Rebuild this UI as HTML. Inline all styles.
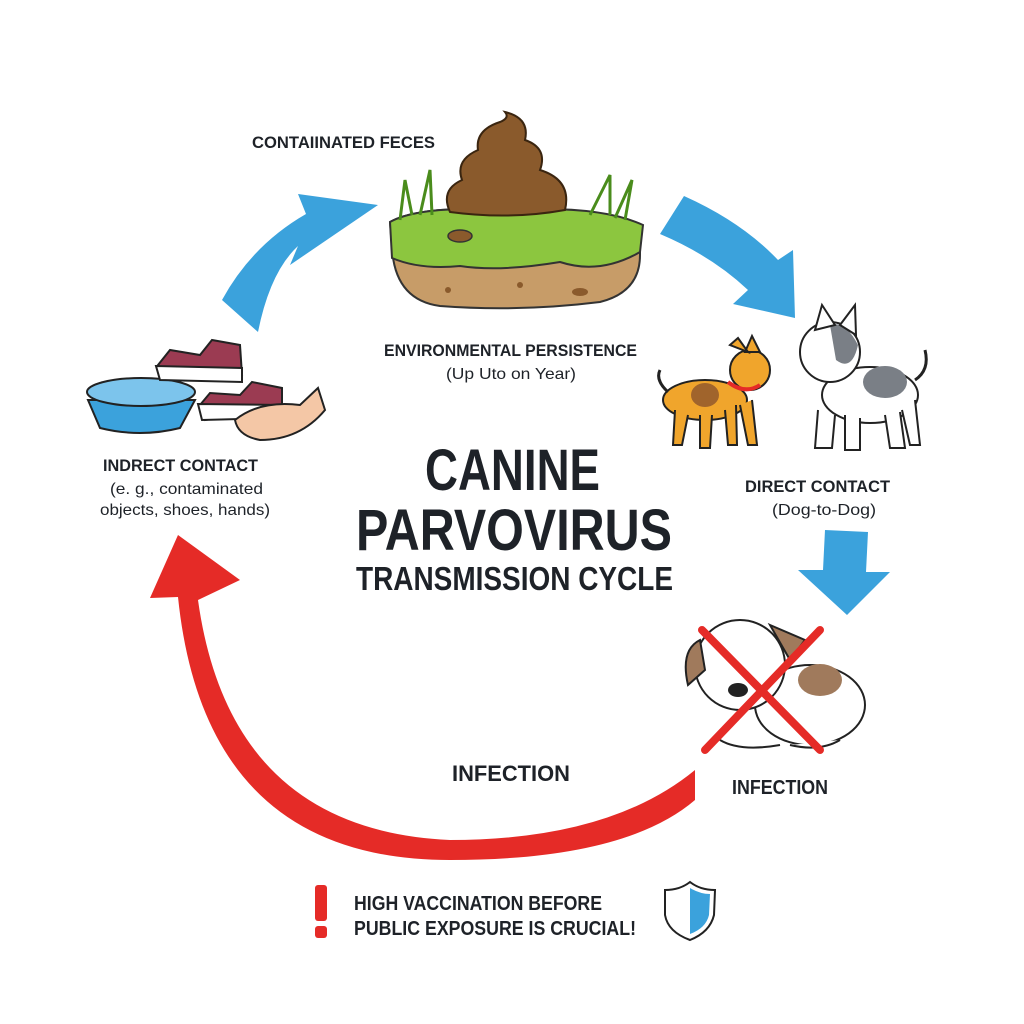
<!DOCTYPE html>
<html><head><meta charset="utf-8"><style>
html,body{margin:0;padding:0;background:#fff}
svg{display:block}
text{font-family:"Liberation Sans",sans-serif;font-weight:bold;fill:#1e2228}
</style></head><body>
<svg width="1024" height="1024" viewBox="0 0 1024 1024">
<rect width="1024" height="1024" fill="#fff"/>
<!-- blue arrows -->
<path d="M222,300 Q252,245 306,214 L298,194 L378,205 L290,265 L298,246 Q270,272 258,332 Z" fill="#3ba2dc"/>
<path d="M660,234 L684,196 Q742,222 778,260 L793,250 L795,318 L733,304 L748,290 Q712,256 660,234 Z" fill="#3ba2dc"/>
<path d="M825,530 L868,532 L866,572 L890,572 L847,615 L798,570 L823,570 Z" fill="#3ba2dc"/>
<!-- red arrow -->
<path d="M695,770 Q610,840 450,840 Q230,830 198,600 L240,580 L178,535 L150,598 L178,597 Q205,860 450,860 Q625,860 695,800 Z" fill="#e52b27"/>
<!-- grass island -->
<path d="M392,248 Q395,300 440,306 Q520,312 600,302 Q640,292 640,255 L640,230 Q600,205 510,210 Q420,205 390,222 Z" fill="#c79c68" stroke="#333" stroke-width="2"/>
<path d="M390,222 Q420,205 510,210 Q600,205 643,225 L640,252 Q600,275 560,262 Q500,272 460,266 Q420,270 392,258 Z" fill="#8cc63f" stroke="#333" stroke-width="2"/>
<ellipse cx="460" cy="236" rx="12" ry="6" fill="#8a5a2c" stroke="#333" stroke-width="1.5"/>
<circle cx="448" cy="290" r="3" fill="#8a5a2c"/><circle cx="520" cy="285" r="3" fill="#8a5a2c"/><ellipse cx="580" cy="292" rx="8" ry="4" fill="#8a5a2c"/>
<path d="M400,220 L405,180 L412,215 M420,215 L430,170 L432,215 M590,215 L610,175 L610,215 M615,218 L632,180 L625,220" stroke="#4a8c1c" stroke-width="3" fill="none"/>
<!-- poop -->
<path d="M450,212 Q440,190 462,180 Q455,160 478,150 Q475,130 500,122 Q510,118 505,112 Q530,118 525,140 Q548,148 540,170 Q572,180 565,210 Q510,220 450,212 Z" fill="#8a5a2c" stroke="#3a2510" stroke-width="2"/>
<!-- bowl -->
<path d="M88,400 L100,428 Q140,438 180,428 L195,400 Z" fill="#3ba2dc" stroke="#222" stroke-width="2"/>
<ellipse cx="141" cy="392" rx="54" ry="14" fill="#7cc4ec" stroke="#222" stroke-width="2"/>
<!-- shoes -->
<path d="M158,365 L170,350 L200,355 L212,340 L240,345 L242,375 L165,378 Z" fill="#9b3b52" stroke="#222" stroke-width="2"/>
<path d="M156,366 L242,368 L242,382 L160,380 Z" fill="#fff" stroke="#222" stroke-width="2"/>
<path d="M200,405 L210,393 L240,395 L252,382 L282,388 L282,408 L205,420 Z" fill="#9b3b52" stroke="#222" stroke-width="2"/>
<path d="M198,404 L282,405 L282,418 L202,420 Z" fill="#fff" stroke="#222" stroke-width="2"/>
<path d="M235,420 Q260,400 300,405 L318,388 L325,410 Q300,440 260,440 Q238,436 235,420 Z" fill="#f4c7a6" stroke="#222" stroke-width="2"/>
<!-- orange dog -->
<ellipse cx="705" cy="400" rx="42" ry="20" fill="#f0a52c" stroke="#222" stroke-width="2"/>
<ellipse cx="705" cy="395" rx="14" ry="12" fill="#a0642c"/>
<circle cx="750" cy="370" r="20" fill="#f0a52c" stroke="#222" stroke-width="2"/>
<path d="M730,345 L738,338 L748,352 Z M745,352 L752,336 L760,352 Z" fill="#f0a52c" stroke="#222" stroke-width="2"/>
<path d="M675,410 L673,445 L682,445 L688,415 M700,415 L700,448 L710,448 L712,415 M725,410 L728,445 L737,445 L736,405 M740,405 L748,445 L757,445 L752,400" fill="#f0a52c" stroke="#222" stroke-width="2"/>
<path d="M668,392 Q655,380 660,370" stroke="#222" stroke-width="3" fill="none"/>
<path d="M728,382 Q745,395 760,385" stroke="#e52b27" stroke-width="4" fill="none"/>
<!-- white/grey dog -->
<ellipse cx="870" cy="395" rx="48" ry="28" fill="#fff" stroke="#222" stroke-width="2"/>
<ellipse cx="885" cy="382" rx="22" ry="16" fill="#7a7f86"/>
<circle cx="830" cy="352" r="30" fill="#fff" stroke="#222" stroke-width="2"/>
<path d="M830,325 Q845,320 858,345 Q852,372 836,360 Z" fill="#7a7f86"/>
<path d="M815,330 L822,305 L835,325 Z M840,325 L855,305 L856,335 Z" fill="#fff" stroke="#222" stroke-width="2"/>
<path d="M818,410 L815,448 L832,448 L835,415 M845,415 L845,450 L860,450 L860,418 M885,415 L890,448 L905,448 L900,412 M902,410 L910,445 L920,445 L915,400" fill="#fff" stroke="#222" stroke-width="2"/>
<path d="M915,380 Q930,370 925,350" stroke="#222" stroke-width="3" fill="none"/>
<!-- sick dog -->
<ellipse cx="810" cy="705" rx="55" ry="40" fill="#fff" stroke="#222" stroke-width="2"/>
<ellipse cx="820" cy="680" rx="22" ry="16" fill="#a07a5c"/>
<circle cx="740" cy="665" r="45" fill="#fff" stroke="#222" stroke-width="2"/>
<path d="M700,640 Q680,650 688,685 L705,670 Z M770,625 L805,640 L790,660 Z" fill="#a07a5c" stroke="#222" stroke-width="2"/>
<ellipse cx="738" cy="690" rx="10" ry="7" fill="#222"/>
<path d="M720,740 Q740,752 780,745 M790,745 Q820,752 840,740" stroke="#222" stroke-width="2" fill="#fff"/>
<path d="M702,630 L820,750 M820,630 L705,750" stroke="#e52b27" stroke-width="8" stroke-linecap="round"/>
<!-- labels -->
<text x="252" y="148" font-size="17" textLength="183" lengthAdjust="spacingAndGlyphs">CONTAIINATED FECES</text>
<text x="384" y="356" font-size="17" textLength="253" lengthAdjust="spacingAndGlyphs">ENVIRONMENTAL PERSISTENCE</text>
<text x="446" y="379" font-size="16" textLength="130" lengthAdjust="spacingAndGlyphs" style="font-weight:normal">(Up Uto on Year)</text>
<text x="103" y="471" font-size="17" textLength="155" lengthAdjust="spacingAndGlyphs">INDRECT CONTACT</text>
<text x="110" y="494" font-size="16" textLength="153" lengthAdjust="spacingAndGlyphs" style="font-weight:normal">(e. g., contaminated</text>
<text x="100" y="515" font-size="16" textLength="170" lengthAdjust="spacingAndGlyphs" style="font-weight:normal">objects, shoes, hands)</text>
<text x="745" y="492" font-size="17" textLength="145" lengthAdjust="spacingAndGlyphs">DIRECT CONTACT</text>
<text x="772" y="515" font-size="16" textLength="104" lengthAdjust="spacingAndGlyphs" style="font-weight:normal">(Dog-to-Dog)</text>
<text x="425" y="490" font-size="58" textLength="175" lengthAdjust="spacingAndGlyphs">CANINE</text>
<text x="356" y="550" font-size="58" textLength="316" lengthAdjust="spacingAndGlyphs">PARVOVIRUS</text>
<text x="356" y="590" font-size="33" textLength="317" lengthAdjust="spacingAndGlyphs">TRANSMISSION CYCLE</text>
<text x="452" y="781" font-size="22" textLength="118" lengthAdjust="spacingAndGlyphs">INFECTION</text>
<text x="732" y="794" font-size="20" textLength="96" lengthAdjust="spacingAndGlyphs">INFECTION</text>
<!-- bottom -->
<rect x="315" y="885" width="12" height="36" rx="3" fill="#e52b27"/>
<rect x="315" y="926" width="12" height="12" rx="3" fill="#e52b27"/>
<text x="354" y="910" font-size="20" textLength="248" lengthAdjust="spacingAndGlyphs">HIGH VACCINATION BEFORE</text>
<text x="354" y="935" font-size="20" textLength="282" lengthAdjust="spacingAndGlyphs">PUBLIC EXPOSURE IS CRUCIAL!</text>
<path d="M690,882 Q700,890 715,890 L714,915 Q710,932 690,940 Q668,932 665,915 L665,890 Q680,890 690,882 Z" fill="#fff" stroke="#222" stroke-width="2"/>
<path d="M690,888 Q700,894 710,894 L709,915 Q706,928 690,934 Z" fill="#3ba2dc"/>
</svg>
</body></html>
